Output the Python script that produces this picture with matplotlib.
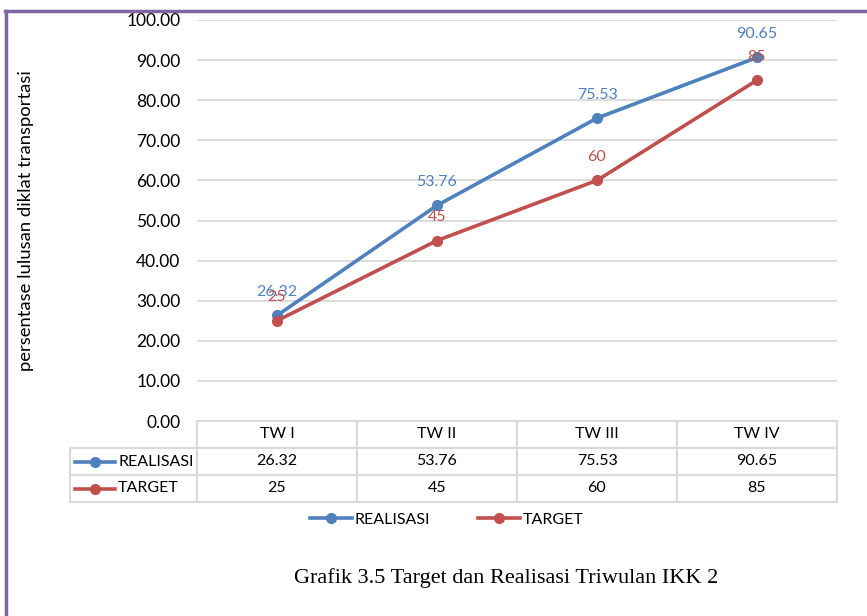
import matplotlib.pyplot as plt
from matplotlib.lines import Line2D
from matplotlib.table import Table

# Data
kategori = ["TW I", "TW II", "TW III", "TW IV"]
realisasi = [26.32, 53.76, 75.53, 90.65]
target = [25, 45, 60, 85]
label_target = ["25", "45", "60", "85"]

biru = "#4F81BD"
merah = "#C0504D"
abu = "#D9D9D9"

plt.rcParams['font.family'] = ['Lato', 'DejaVu Sans']

W, H = 867, 616
fig = plt.figure(figsize=(W / 100, H / 100), dpi=100)

# plot area in pixels: x 197..837, y 20..421
ax = fig.add_axes([197 / W, 1 - 421 / H, 640 / W, 401 / H])
x = list(range(len(kategori)))

ax.plot(x, realisasi, color=biru, lw=2.6, marker='o', ms=7, zorder=3, label="REALISASI")
ax.plot(x, target, color=merah, lw=2.6, marker='o', ms=7, zorder=3, label="TARGET")

for xi, v in zip(x, realisasi):
    ax.annotate(f"{v:.2f}", (xi, v), xytext=(0, 17), textcoords='offset points',
                ha='center', va='center', color=biru, fontsize=11.5)
for xi, v, s in zip(x, target, label_target):
    ax.annotate(s, (xi, v), xytext=(0, 17), textcoords='offset points',
                ha='center', va='center', color=merah, fontsize=11.5)

ax.set_xlim(-0.5, len(kategori) - 0.5)
ax.set_ylim(0, 100)
ax.set_yticks(range(0, 101, 10))
ax.set_yticklabels([f"{t:.2f}" for t in range(0, 101, 10)], fontsize=12.5)
ax.tick_params(axis='y', length=0, pad=12)
ax.set_xticks([])
ax.grid(axis='y', color=abu, lw=1.3)
ax.set_axisbelow(True)
for s in ax.spines.values():
    s.set_visible(False)

ax.set_ylabel("persentase lulusan diklat transportasi", fontsize=13.3)
ax.yaxis.set_label_coords(-0.255, 0.5)

# data table below the axes
lebar_label = 127 / 640
lebar_kol = 1 / len(kategori)
tinggi = 27 / 401
tbl = Table(ax, bbox=[-lebar_label, -3 * tinggi, 1 + lebar_label, 3 * tinggi])
baris = [("REALISASI", [f"{v:.2f}" for v in realisasi]), ("TARGET", label_target)]
for j, k in enumerate(kategori):
    c = tbl.add_cell(0, j + 1, width=lebar_kol, height=tinggi, text=k, loc='center')
    c.set_edgecolor(abu)
    c.set_linewidth(1.5)
c0 = tbl.add_cell(0, 0, width=lebar_label, height=tinggi, text="")
c0.visible_edges = ""
for i, (nama, vals) in enumerate(baris):
    c = tbl.add_cell(i + 1, 0, width=lebar_label, height=tinggi, text="")
    c.set_edgecolor(abu)
    c.set_linewidth(1.5)
    for j, v in enumerate(vals):
        c = tbl.add_cell(i + 1, j + 1, width=lebar_kol, height=tinggi, text=v, loc='center')
        c.set_edgecolor(abu)
        c.set_linewidth(1.5)
tbl.auto_set_font_size(False)
tbl.set_fontsize(11.5)
ax.add_table(tbl)

# legend keys inside the table row labels
for i, (nama, warna) in enumerate([("REALISASI", biru), ("TARGET", merah)]):
    yc = 1 - (448 + 27 * i + 13.5) / H
    fig.add_artist(Line2D([75 / W, 115 / W], [yc, yc], color=warna, lw=2.6))
    fig.add_artist(Line2D([95 / W], [yc], color=warna, marker='o', ms=7))
    fig.text(118 / W, yc, nama, fontsize=11.5, va='center', ha='left')

# legend below
fig.legend(handles=ax.get_lines(), loc='center', bbox_to_anchor=(447 / W, 1 - 520 / H),
           ncol=2, frameon=False, fontsize=11.5, handlelength=2.6, columnspacing=3.0,
           handletextpad=0.2)

fig.text(506 / W, 1 - 578 / H, "Grafik 3.5 Target dan Realisasi Triwulan IKK 2",
         ha='center', va='center', fontsize=16, family=['Liberation Serif', 'DejaVu Serif'])

# purple frame
ungu = "#8064A2"
fig.add_artist(Line2D([5 / W, 1], [1 - 10.5 / H, 1 - 10.5 / H], color=ungu, lw=2.5))
fig.add_artist(Line2D([5.5 / W, 5.5 / W], [0, 1 - 10.5 / H], color=ungu, lw=2.5))

fig.savefig("out.png", dpi=100)
